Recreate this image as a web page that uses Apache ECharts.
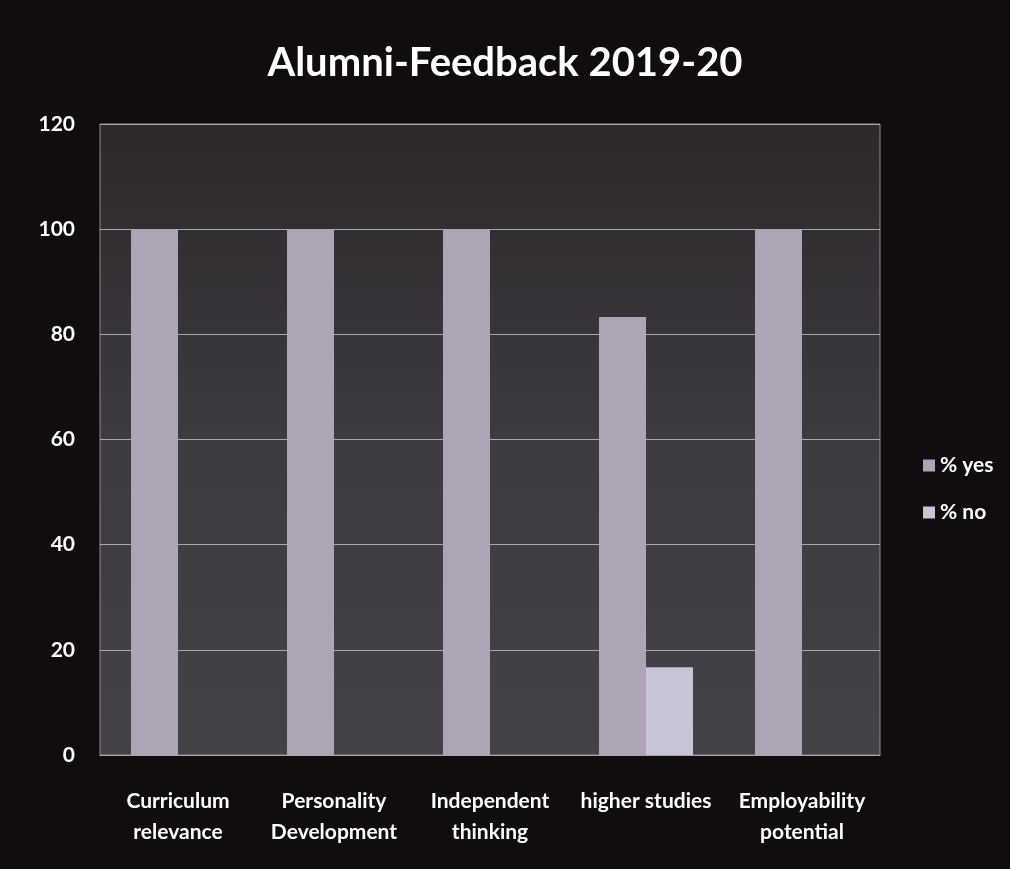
<!DOCTYPE html>
<html>
<head>
<meta charset="utf-8">
<script src="https://cdn.jsdelivr.net/npm/echarts@6/dist/echarts.min.js"></script>
<style>
  html, body { margin: 0; padding: 0; background: #110d0f; }
  #main { width: 1010px; height: 869px; }
</style>
</head>
<body>
<div id="main"></div>
<script>
var categories = ['Curriculum\nrelevance', 'Personality\nDevelopment', 'Independent\nthinking', 'higher studies', 'Employability\npotential'];
var yesValues = [100, 100, 100, 83.3, 100];
var noValues = [0, 0, 0, 16.7, 0];

var chart = echarts.init(document.getElementById('main'));

var option = {
  backgroundColor: '#110d0f',
  title: {
    text: 'Alumni-Feedback 2019-20',
    left: 'center',
    top: 38,
    textStyle: { color: '#ffffff', fontFamily: 'Lato', fontWeight: 'bold', fontSize: 40 }
  },
  legend: {
    orient: 'vertical',
    left: 918,
    top: 450,
    itemWidth: 12,
    itemHeight: 12,
    itemGap: 26,
    icon: 'rect',
    textStyle: { color: '#ffffff', fontFamily: 'Lato', fontWeight: 'bold', fontSize: 21 },
    data: ['% yes', '% no']
  },
  grid: {
    left: 100,
    right: 130,
    top: 124,
    bottom: 114,
    show: true,
    borderColor: '#8e8a94',
    borderWidth: 1,
    backgroundColor: new echarts.graphic.LinearGradient(0, 0, 0, 1, [
      { offset: 0, color: '#2c282c' },
      { offset: 0.5, color: '#3e3b40' },
      { offset: 1, color: '#444147' }
    ])
  },
  xAxis: {
    type: 'category',
    data: categories,
    axisLine: { show: true, lineStyle: { color: '#a9a6b0' } },
    axisTick: { show: false },
    axisLabel: { color: '#ffffff', fontFamily: 'Lato', fontWeight: 'bold', fontSize: 21, lineHeight: 31, margin: 31, interval: 0 }
  },
  yAxis: {
    type: 'value',
    min: 0,
    max: 120,
    interval: 20,
    axisLine: { show: false },
    axisTick: { show: false },
    splitLine: { lineStyle: { color: '#a9a7b2', width: 1 } },
    axisLabel: { color: '#ffffff', fontFamily: 'Lato', fontWeight: 'bold', fontSize: 21, margin: 25 }
  },
  series: [
    {
      name: '% yes',
      type: 'bar',
      data: yesValues,
      barWidth: 47,
      barGap: '0%',
      itemStyle: { color: '#aba5b6' }
    },
    {
      name: '% no',
      type: 'bar',
      data: noValues,
      barWidth: 47,
      barGap: '0%',
      itemStyle: { color: '#c9c5d9' }
    }
  ]
};

chart.setOption(option);
</script>
</body>
</html>
